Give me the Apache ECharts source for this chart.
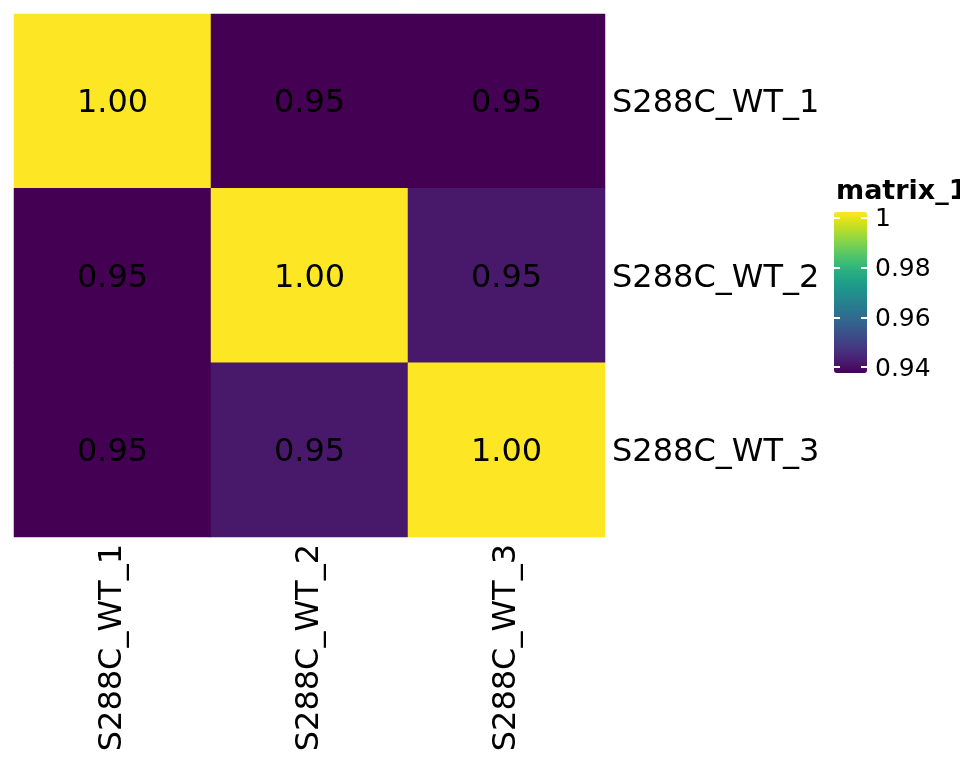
<!DOCTYPE html>
<html>
<head>
<meta charset="utf-8">
<script src="https://cdn.jsdelivr.net/npm/echarts@6/dist/echarts.min.js"></script>
<style>html,body{margin:0;padding:0;background:#fff;}#c{width:960px;height:768px;}</style>
</head>
<body>
<div id="c"></div>
<script>
const rowNames = ['S288C_WT_1', 'S288C_WT_2', 'S288C_WT_3'];
const colNames = ['S288C_WT_1', 'S288C_WT_2', 'S288C_WT_3'];
const corrRow1 = [1.0, 0.946, 0.946];
const corrRow2 = [0.946, 1.0, 0.9493];
const corrRow3 = [0.946, 0.9493, 1.0];
const legendTicks = [0.94, 0.96, 0.98, 1];
const legendTitle = 'matrix_1';
const viridis = ["#440154","#481568","#482677","#453781","#3F4788","#39558C","#32648E","#2D718E","#287D8E","#238A8D","#1F968B","#20A386","#29AF7F","#3CBC75","#56C667","#75D054","#95D840","#BADE28","#DDE318","#FDE725"];

const matrix = [corrRow1, corrRow2, corrRow3];
const cells = [];
matrix.forEach((row, r) => row.forEach((v, c) => cells.push([c, r, v])));
const all = matrix.flat();
const dMin = Math.min(...all), dMax = Math.max(...all);
const font = 'DejaVu Sans';

const chart = echarts.init(document.getElementById('c'));
chart.setOption({
  animation: false,
  backgroundColor: '#ffffff',
  title: {
    text: legendTitle, left: 836, top: 178, padding: 0,
    textStyle: {fontFamily: font, fontWeight: 'bold', fontSize: 27, color: '#000'}
  },
  grid: [
    {left: 14, top: 14, width: 591, height: 523},
    {left: 834, top: 212, width: 33, height: 161}
  ],
  xAxis: [
    {type: 'category', gridIndex: 0, data: colNames, position: 'bottom',
     axisLine: {show: false}, axisTick: {show: false}, splitLine: {show: false},
     axisLabel: {rotate: 90, margin: 7, fontSize: 32, fontFamily: font, color: '#000'}},
    {type: 'value', gridIndex: 1, show: false, min: 0, max: 1}
  ],
  yAxis: [
    {type: 'category', gridIndex: 0, data: rowNames, inverse: true, position: 'right',
     axisLine: {show: false}, axisTick: {show: false}, splitLine: {show: false},
     axisLabel: {margin: 7, color: '#000', formatter: v => '{a|' + v + '}',
                 rich: {a: {fontSize: 32, fontFamily: font, color: '#000', padding: [6, 0, 0, 0]}}}},
    {type: 'value', gridIndex: 1, position: 'left', min: 0.9376, max: 1.0024, z: 10,
     axisLine: {show: false}, splitLine: {show: false}, axisLabel: {show: false},
     axisTick: {show: true, inside: true, length: 6, customValues: legendTicks, lineStyle: {color: '#fff', width: 2}}},
    {type: 'value', gridIndex: 1, position: 'right', min: 0.9376, max: 1.0024, z: 10,
     axisLine: {show: false}, splitLine: {show: false},
     axisTick: {show: true, inside: true, length: 6, customValues: legendTicks, lineStyle: {color: '#fff', width: 2}},
     axisLabel: {show: true, customValues: legendTicks, margin: 8, color: '#000',
                 formatter: v => '{b|' + String(+v.toFixed(2)) + '}',
                 rich: {b: {fontSize: 25, fontFamily: font, color: '#000', padding: [4, 0, 0, 0]}}}}
  ],
  visualMap: [
    {type: 'continuous', show: false, seriesIndex: 0, dimension: 2, min: dMin, max: dMax,
     inRange: {color: viridis}},
    {type: 'continuous', show: true, seriesIndex: 1, min: 0.9376, max: 1.0024, calculable: false,
     left: 834, top: 212, itemWidth: 33, itemHeight: 161, padding: 0, text: null, showLabel: false,
     inRange: {color: viridis}}
  ],
  series: [
    {type: 'heatmap', xAxisIndex: 0, yAxisIndex: 0, data: cells,
     itemStyle: {borderWidth: 0},
     emphasis: {disabled: true},
     label: {show: true, fontSize: 32, fontFamily: font, color: '#000', offset: [0, 3],
             formatter: p => p.value[2].toFixed(2)}},
    {type: 'scatter', xAxisIndex: 1, yAxisIndex: 1, data: [], silent: true}
  ]
});
</script>
</body>
</html>
